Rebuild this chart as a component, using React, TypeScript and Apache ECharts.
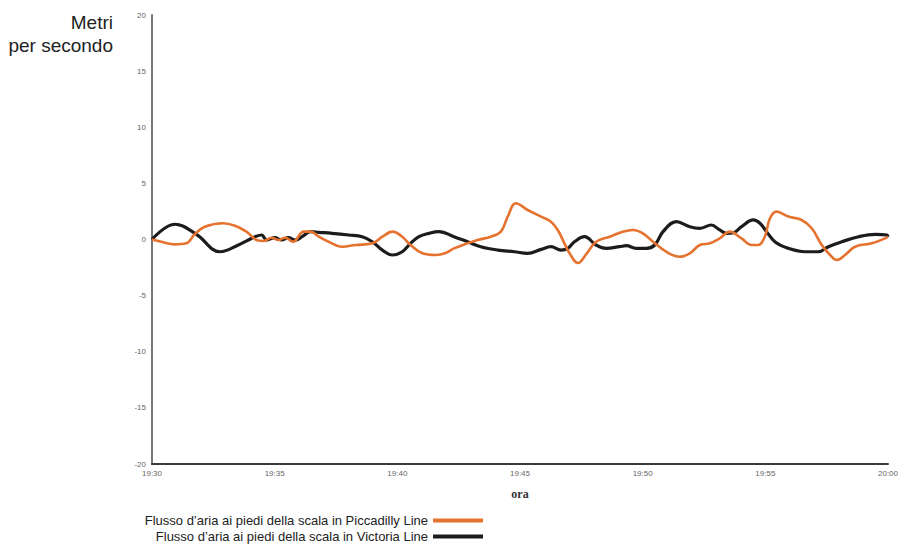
import React, { useEffect, useRef } from "react";
import * as echarts from "echarts";

const tickLabels = ["19:30", "19:35", "19:40", "19:45", "19:50", "19:55", "20:00"];
const yTicks = [-20, -15, -10, -5, 0, 5, 10, 15, 20];

const piccadillyName = "Flusso d\u2019aria ai piedi della scala in Piccadilly Line";
const victoriaName = "Flusso d\u2019aria ai piedi della scala in Victoria Line";

// minutes after 19:30
const piccadillyTimes = [0, 0.38, 0.93, 1.4, 1.74, 2.15, 2.9, 3.38, 3.85, 4.26, 4.54, 4.88, 5.15, 5.42, 5.75, 6.18, 6.46, 6.8, 7.2, 7.75, 8.3, 8.98, 9.39, 9.8, 10.2, 10.54, 11.02, 11.57, 11.97, 12.31, 12.86, 13.27, 13.81, 14.22, 14.5, 14.83, 15.31, 15.86, 16.26, 16.54, 16.81, 17.02, 17.36, 17.7, 18.1, 18.65, 19.19, 19.6, 20.01, 20.42, 20.96, 21.51, 21.92, 22.33, 22.74, 23.14, 23.55, 24.03, 24.44, 24.71, 24.98, 25.19, 25.46, 25.94, 26.48, 26.89, 27.3, 27.64, 27.91, 28.25, 28.66, 29.34, 29.88, 30];
const piccadillyValues = [0, -0.2, -0.43, -0.34, 0.46, 1.14, 1.45, 1.23, 0.7, -0.04, -0.13, 0.16, -0.04, 0.16, -0.2, 0.7, 0.7, 0.25, -0.2, -0.64, -0.49, -0.34, 0.25, 0.7, 0.25, -0.49, -1.23, -1.38, -1.2, -0.79, -0.34, -0.04, 0.25, 0.7, 2.04, 3.23, 2.63, 2.04, 1.59, 0.85, -0.34, -1.23, -2.1, -1.3, -0.2, 0.25, 0.7, 0.85, 0.55, -0.2, -1.09, -1.54, -1.23, -0.49, -0.34, 0.1, 0.7, 0.1, -0.49, -0.49, 0.25, 1.89, 2.48, 2.04, 1.74, 1.0, -0.49, -1.38, -1.83, -1.38, -0.64, -0.34, 0.1, 0.25];

const victoriaTimes = [0, 0.93, 1.81, 2.77, 3.52, 3.93, 4.2, 4.47, 4.67, 5.01, 5.28, 5.56, 5.84, 6.12, 6.46, 6.8, 7.34, 8.02, 8.57, 8.98, 9.39, 9.8, 10.2, 10.54, 10.88, 11.29, 11.7, 12.31, 12.86, 13.4, 14.09, 14.77, 15.31, 15.86, 16.26, 16.67, 16.95, 17.22, 17.63, 18.1, 18.51, 19.06, 19.33, 19.74, 20.15, 20.49, 20.83, 21.37, 21.92, 22.33, 22.8, 23.14, 23.42, 23.69, 24.03, 24.51, 24.78, 25.05, 25.39, 25.94, 26.62, 27.16, 27.57, 28.12, 28.8, 29.48, 29.96, 30];
const victoriaValues = [0, 1.36, 0.46, -1.09, -0.49, -0.04, 0.25, 0.4, -0.04, 0.16, -0.04, 0.16, -0.04, 0.25, 0.7, 0.64, 0.55, 0.4, 0.25, -0.2, -0.94, -1.38, -1.09, -0.34, 0.25, 0.55, 0.7, 0.25, -0.2, -0.64, -0.94, -1.09, -1.23, -0.88, -0.64, -0.94, -0.79, -0.2, 0.25, -0.49, -0.79, -0.64, -0.55, -0.79, -0.79, -0.49, 0.7, 1.59, 1.14, 1.0, 1.29, 0.85, 0.55, 0.6, 1.14, 1.74, 1.45, 0.7, -0.2, -0.79, -1.09, -1.09, -0.64, -0.2, 0.25, 0.46, 0.4, 0.25];

const zip = (a: number[], b: number[]) => a.map((t, i) => [t, b[i]]);

export default function App() {
  const ref = useRef<HTMLDivElement>(null);
  useEffect(() => {
    if (!ref.current) return;
    const chart = echarts.init(ref.current, null, { renderer: "svg" });
    const orange = "#e5732f";
    const black = "#1c1c1c";
    chart.setOption({
      animation: false,
      backgroundColor: "#ffffff",
      textStyle: { fontFamily: "Liberation Sans, Arial, sans-serif" },
      grid: { left: 152, right: 15, top: 15, bottom: 81, containLabel: false },
      xAxis: {
        type: "value",
        min: 0,
        max: 30,
        interval: 5,
        name: "ora",
        nameLocation: "middle",
        nameGap: 24,
        nameTextStyle: { fontFamily: "Liberation Serif, serif", fontWeight: "bold", fontSize: 12, color: "#333" },
        axisLine: { show: true, onZero: false, lineStyle: { color: "#3a3a3a", width: 2 } },
        axisTick: { show: false },
        splitLine: { show: false },
        axisLabel: {
          fontSize: 8,
          color: "#666",
          margin: 5,
          formatter: (v: number) => tickLabels[Math.round(v / 5)] ?? "",
        },
      },
      yAxis: {
        type: "value",
        min: yTicks[0],
        max: yTicks[yTicks.length - 1],
        interval: 5,
        axisLine: { show: true, onZero: false, lineStyle: { color: "#777", width: 2 } },
        axisTick: { show: false },
        splitLine: { show: false },
        axisLabel: { fontSize: 8, color: "#666", margin: 6 },
      },
      legend: [
        {
          data: [piccadillyName],
          right: 420,
          top: 514,
          orient: "vertical",
          align: "right",
          icon: "rect",
          itemWidth: 50,
          itemHeight: 4,
          padding: 0,
          textStyle: { fontSize: 13, color: "#222" },
          itemGap: 0,
        },
        {
          data: [victoriaName],
          right: 420,
          top: 530,
          orient: "vertical",
          align: "right",
          icon: "rect",
          itemWidth: 50,
          itemHeight: 4,
          padding: 0,
          textStyle: { fontSize: 13, color: "#222" },
          itemGap: 0,
        },
      ],
      graphic: [
        {
          type: "text",
          x: 113,
          y: 22,
          style: {
            text: "Metri",
            textAlign: "right",
            textVerticalAlign: "middle",
            fontSize: 19,
            fill: "#222",
            fontFamily: "Liberation Sans, Arial, sans-serif",
          },
        },
        {
          type: "text",
          x: 113,
          y: 45,
          style: {
            text: "per secondo",
            textAlign: "right",
            textVerticalAlign: "middle",
            fontSize: 19,
            fill: "#222",
            fontFamily: "Liberation Sans, Arial, sans-serif",
          },
        },
      ],
      series: [
        {
          name: victoriaName,
          type: "line",
          data: zip(victoriaTimes, victoriaValues),
          smooth: 0.4,
          showSymbol: false,
          symbol: "none",
          color: black,
          lineStyle: { color: black, width: 3.2 },
          z: 2,
        },
        {
          name: piccadillyName,
          type: "line",
          data: zip(piccadillyTimes, piccadillyValues),
          smooth: 0.4,
          showSymbol: false,
          symbol: "none",
          color: orange,
          lineStyle: { color: orange, width: 2.6 },
          z: 3,
        },
      ],
    });
    return () => chart.dispose();
  }, []);
  return <div ref={ref} style={{ width: 903, height: 545, position: "absolute", left: 0, top: 0 }} />;
}
